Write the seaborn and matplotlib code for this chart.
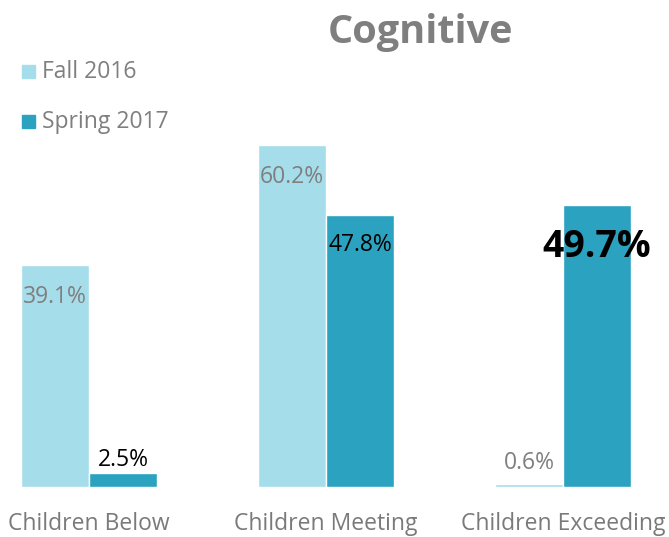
import matplotlib
matplotlib.use("Agg")
import matplotlib.pyplot as plt
import seaborn as sns
import pandas as pd

categories = ["Children Below", "Children Meeting", "Children Exceeding"]
series = ["Fall 2016", "Spring 2017"]
fall_values = [39.1, 60.2, 0.6]
spring_values = [2.5, 47.8, 49.7]
title = "Cognitive"

df = pd.DataFrame({
    "category": categories * 2,
    "series": [series[0]] * 3 + [series[1]] * 3,
    "value": fall_values + spring_values,
})

sns.set_theme(style="white")
plt.rcParams["font.family"] = ["Open Sans", "DejaVu Sans"]

light = "#A6DDEA"
dark = "#2BA2BF"
grey = "#7F7F7F"
fs = 16.5

fig = plt.figure(figsize=(6.69, 5.37), dpi=100)
ax = fig.add_axes([0, 1 - 487 / 537, 1, 487 / 537])
sns.barplot(data=df, x="category", y="value", hue="series", order=categories,
            hue_order=series, palette=[light, dark], width=0.574, gap=0,
            saturation=1, legend=False, ax=ax)

ax.set_xlim(-89 / 237, (669 - 89) / 237)
ax.set_ylim(0, 487 / 5.68)
for s in ax.spines.values():
    s.set_visible(False)
ax.set_yticks([])
ax.set_xlabel("")
ax.set_ylabel("")
ax.tick_params(axis="x", length=0, pad=18, labelsize=fs, labelcolor="#7A7A7A")

bw = 0.287
for i, v in enumerate(fall_values):
    x = i - bw / 2
    off = -32 if v > 10 else 21
    ax.annotate(f"{v}%", (x, v), xytext=(0, off), textcoords="offset pixels",
                ha="center", va="center", fontsize=fs, color=grey)
for i, v in enumerate(spring_values):
    x = i + bw / 2
    if i == 2:
        ax.annotate(f"{v}%", (x, v), xytext=(0, -42), textcoords="offset pixels",
                    ha="center", va="center", fontsize=27, fontweight="bold", color="black")
    else:
        off = -30 if v > 10 else 13
        ax.annotate(f"{v}%", (x, v), xytext=(0, off), textcoords="offset pixels",
                    ha="center", va="center", fontsize=fs, color="black")

fig.text(421 / 669, 1 - 32 / 537, title, ha="center", va="center",
         fontsize=28.5, fontweight="bold", color=grey)

# legend
for j, (lab, col) in enumerate(zip(series, [light, dark])):
    yc = 1 - (72 + 50 * j) / 537
    fig.patches.append(plt.Rectangle((22 / 669, yc - 6.5 / 537), 13 / 669, 13 / 537,
                                     transform=fig.transFigure, color=col))
    fig.text(42 / 669, yc, lab, ha="left", va="center", fontsize=fs, color=grey)

fig.savefig("out.png", dpi=100)
